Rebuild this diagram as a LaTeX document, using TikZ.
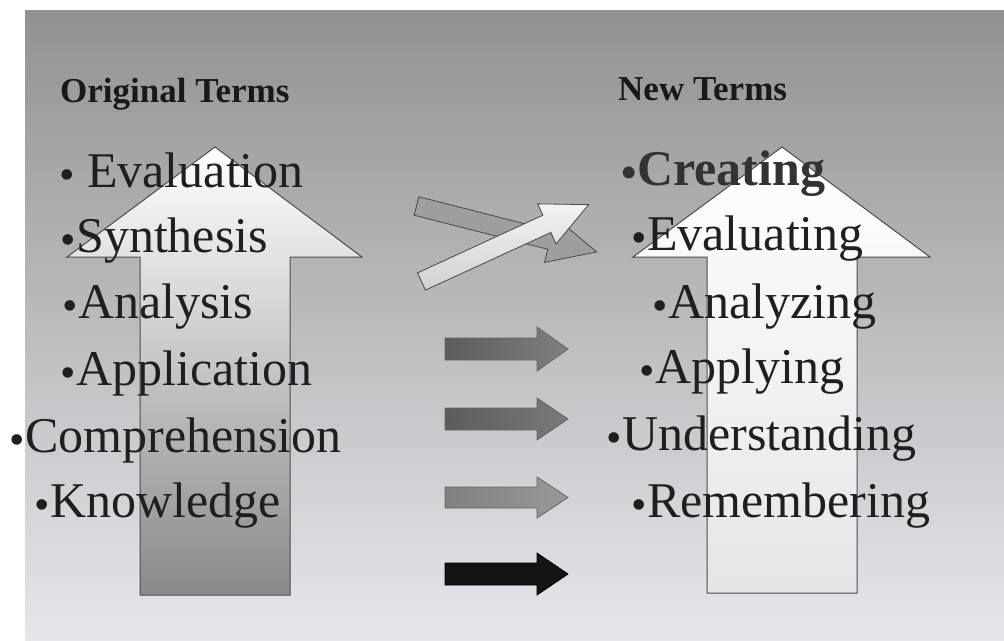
\documentclass[tikz,border=0pt]{standalone}
\usepackage{fontspec}
\setmainfont{Liberation Serif}
\definecolor{bgtop}{RGB}{146,146,146}
\definecolor{bgmid}{RGB}{178,178,180}
\definecolor{bgbot}{RGB}{230,230,236}
\newcommand\bul{\raisebox{-2pt}{\fontsize{44}{48}\selectfont •}} % the list bullet
\tikzset{
  term/.style={anchor=base west, inner sep=0pt, text=black!88,
    font=\fontsize{50}{60}\selectfont}, % one bullet line of a list
  listhead/.style={anchor=base west, inner sep=0pt, text=black!90,
    font=\bfseries\fontsize{35}{42}\selectfont}, % title above a list
  bigarrow/.style={draw=black!70, line width=1pt}, % the two tall arrows
  flatarrow/.style={draw=black!60, line width=0.8pt}, % the small block arrows
}

\begin{document}
\begin{tikzpicture}[x=1pt, y=-1pt]
    \useasboundingbox (0,0) rectangle (1004,640);
    \fill[white] (0,0) rectangle (1004,640);
    \shade[top color=bgtop, middle color=bgmid, bottom color=bgbot]
    (25,10) rectangle (1004,640);

    % tall arrows behind the lists
    \shade[bigarrow, top color=white, middle color=black!22, bottom color=black!46]
    (215,147) -- (362,257) -- (290,257) -- (290,595) -- (140,595)
    -- (140,257) -- (67,257) -- cycle;
    \shade[bigarrow, top color=white, middle color=white, bottom color=black!10]
    (782,147) -- (930,257) -- (857,257) -- (857,593) -- (707,593)
    -- (707,257) -- (633,257) -- cycle;

    % crossed arrows
    \begin{scope}[shift={(416.5,206)}, rotate=-14.3]
      \fill[flatarrow, fill=black!38, draw=black!72]
      (0,-9.5) -- (138,-9.5) -- (138,-23) -- (186,0) -- (138,23)
      -- (138,9.5) -- (0,9.5) -- cycle;
    \end{scope}
    \begin{scope}[shift={(421.5,281.5)}, rotate=24.7]
      \shade[flatarrow, draw=black!72, top color=black!5, bottom color=black!18]
      (0,-9.5) -- (138,-9.5) -- (138,-22) -- (184,0) -- (138,22)
      -- (138,9.5) -- (0,9.5) -- cycle;
    \end{scope}

    % straight arrows
    \shade[flatarrow, left color=black!64, right color=black!50]
    (445,338) -- (537,338) -- (537,327) -- (568,349) -- (537,371)
    -- (537,360) -- (445,360) -- cycle;
    \shade[flatarrow, left color=black!64, right color=black!52]
    (445,408) -- (537,408) -- (537,398) -- (568,419) -- (537,440)
    -- (537,430) -- (445,430) -- cycle;
    \shade[flatarrow, left color=black!50, right color=black!40]
    (445,487) -- (537,487) -- (537,477) -- (568,497.5) -- (537,518)
    -- (537,508) -- (445,508) -- cycle;
    \fill[flatarrow, fill=black!92, draw=black]
    (445,563) -- (537,563) -- (537,553) -- (568,574) -- (537,595)
    -- (537,585) -- (445,585) -- cycle;

    % the two lists
    \node[listhead] (orig_head) at (60,102) {Original Terms};
    \node[term] (old_eval) at (59.1,187) {\bul\ Evaluation};
    \node[term] (old_synth) at (60.6,252) {\bul Synthesis};
    \node[term] (old_anal) at (62.6,318) {\bul Analysis};
    \node[term] (old_appl) at (60.6,385) {\bul Application};
    \node[term] (old_comp) at (9.6,452) {\bul Comprehension};
    \node[term] (old_know) at (34.6,517) {\bul Knowledge};

    \node[listhead] (new_head) at (618,100) {New Terms};
    \node[term, text=black!80, font=\bfseries\fontsize{50}{60}\selectfont]
    (new_create) at (621.6,185) {\bul Creating};
    \node[term] (new_eval) at (631.6,250) {\bul Evaluating};
    \node[term] (new_anal) at (652.6,318) {\bul Analyzing};
    \node[term] (new_appl) at (639.6,383) {\bul Applying};
    \node[term] (new_under) at (606.6,450) {\bul Understanding};
    \node[term] (new_remem) at (631.6,517) {\bul Remembering};
  \end{tikzpicture}
\end{document}
